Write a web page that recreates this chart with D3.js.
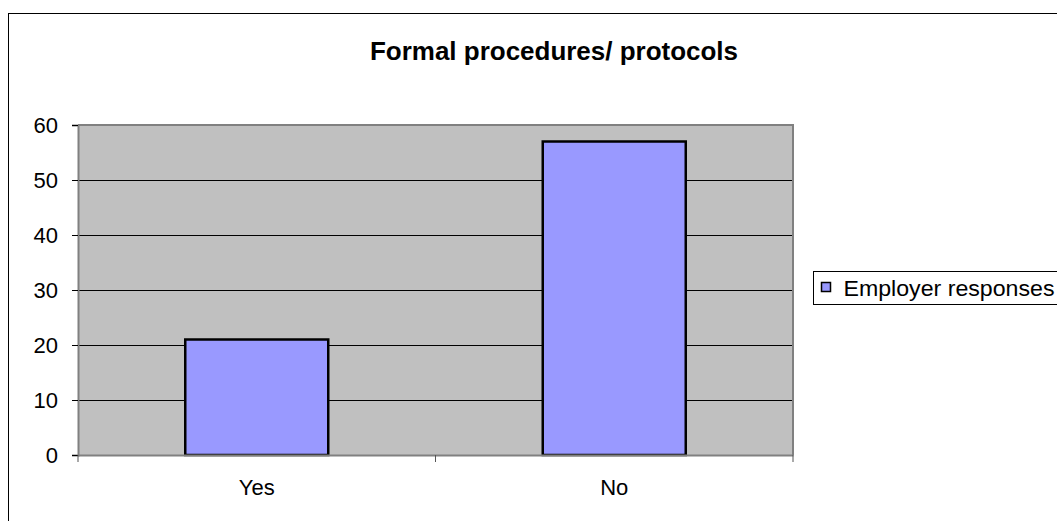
<!DOCTYPE html>
<html>
<head>
<meta charset="utf-8">
<script src="https://cdn.jsdelivr.net/npm/d3@7"></script>
<style>
  html, body { margin: 0; padding: 0; background: #fff; }
  svg { display: block; font-family: Arial, "Liberation Sans", sans-serif; }
</style>
</head>
<body>
<div id="chart"></div>
<script>
const categories = ["Yes", "No"];
const responses = [21, 57];
const yTicks = [0, 10, 20, 30, 40, 50, 60];
const seriesName = "Employer responses";
const chartTitle = "Formal procedures/ protocols";

const W = 1057, H = 521;
const plot = {left: 78, right: 793, top: 125, bottom: 455};

const svg = d3.select("#chart").append("svg").attr("width", W).attr("height", H);

// outer chart frame (runs off the right and bottom edges)
svg.append("rect").attr("x", 8.5).attr("y", 13.5).attr("width", 1060).attr("height", 520)
    .attr("fill", "#fff").attr("stroke", "#000").attr("stroke-width", 1);

svg.append("text").attr("x", 554).attr("y", 60).attr("text-anchor", "middle")
    .style("font-size", "25px").style("font-weight", "bold")
    .attr("textLength", 368).attr("lengthAdjust", "spacingAndGlyphs")
    .text(chartTitle);

const x = d3.scaleBand().domain(categories).range([plot.left, plot.right])
    .paddingInner(0.6).paddingOuter(0.3);
const xCat = d3.scaleBand().domain(categories).range([plot.left, plot.right]);
const y = d3.scaleLinear().domain([0, 60]).range([plot.bottom, plot.top]);

// plot area
svg.append("rect").attr("x", plot.left).attr("y", plot.top)
    .attr("width", plot.right - plot.left).attr("height", plot.bottom - plot.top)
    .attr("fill", "#c0c0c0");

// gridlines
svg.append("g").selectAll("line").data(yTicks.filter(d => d > 0 && d < 60)).join("line")
    .attr("x1", plot.left).attr("x2", plot.right)
    .attr("y1", d => Math.round(y(d)) + 0.5).attr("y2", d => Math.round(y(d)) + 0.5)
    .attr("stroke", "#000").attr("stroke-width", 1);

// plot border: top / right darker
svg.append("path")
    .attr("d", `M${plot.left},${plot.top} H${plot.right} V${plot.bottom}`)
    .attr("fill", "none").attr("stroke", "#808080").attr("stroke-width", 2);

// bars
svg.append("g").selectAll("rect").data(responses).join("rect")
    .attr("x", (d, i) => x(categories[i]))
    .attr("y", d => y(d))
    .attr("width", x.bandwidth())
    .attr("height", d => y(0) - y(d))
    .attr("fill", "#9999ff").attr("stroke", "#000").attr("stroke-width", 2.5);

// y axis
const yAxis = svg.append("g").attr("transform", `translate(${plot.left},0)`)
    .call(d3.axisLeft(y).tickValues(yTicks).tickSize(6).tickPadding(14));
yAxis.select(".domain").attr("stroke", "#808080").attr("stroke-width", 2);
yAxis.selectAll(".tick line").attr("stroke", "#000");
yAxis.selectAll(".tick text").style("font-size", "22px").style("font-family", "Arial, 'Liberation Sans', sans-serif")
    .attr("fill", "#000").attr("dy", "0.36em");

// x axis
const xAxis = svg.append("g").attr("transform", `translate(0,${plot.bottom})`)
    .call(d3.axisBottom(xCat).tickSize(0).tickPadding(0));
xAxis.select(".domain").attr("stroke", "#808080").attr("stroke-width", 2);
xAxis.selectAll(".tick text").style("font-size", "22px").style("font-family", "Arial, 'Liberation Sans', sans-serif")
    .attr("fill", "#000").attr("y", 40).attr("dy", 0);
// category boundary ticks
svg.append("g").selectAll("line").data([plot.left, (plot.left + plot.right) / 2, plot.right]).join("line")
    .attr("x1", d => d).attr("x2", d => d)
    .attr("y1", plot.bottom).attr("y2", plot.bottom + 7)
    .attr("stroke", "#555").attr("stroke-width", 1);

// legend
const lg = svg.append("g").attr("transform", "translate(813.5,271.5)");
lg.append("rect").attr("width", 250).attr("height", 33)
    .attr("fill", "#fff").attr("stroke", "#000").attr("stroke-width", 1);
lg.append("rect").attr("x", 8).attr("y", 11).attr("width", 9).attr("height", 9)
    .attr("fill", "#9999ff").attr("stroke", "#000").attr("stroke-width", 1.5);
lg.append("text").attr("x", 30).attr("y", 24)
    .style("font-size", "22px").attr("textLength", 211).attr("lengthAdjust", "spacingAndGlyphs")
    .text(seriesName);
</script>
</body>
</html>
